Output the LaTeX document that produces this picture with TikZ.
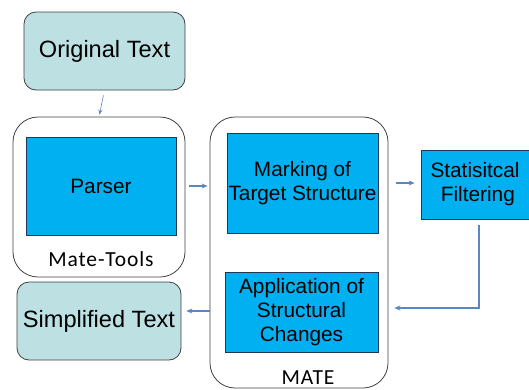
\documentclass[tikz,border=0pt]{standalone}
\usepackage{fontspec}
\setmainfont{Liberation Sans}
\newfontfamily\calib[LetterSpace=4]{Carlito}
\usetikzlibrary{arrows.meta,calc}
\definecolor{tealfill}{RGB}{189,224,227}
\definecolor{bluefill}{RGB}{0,176,240}
\definecolor{boxline}{RGB}{31,56,90}
\definecolor{grayline}{RGB}{64,64,64}
\definecolor{arrowcol}{RGB}{91,134,196}
\tikzset{
  textbox/.style={draw=grayline, fill=tealfill, rounded corners=12pt, line width=0.8pt,
    font=\fontsize{23.6}{28}\selectfont, inner sep=0pt},
  container/.style={draw=grayline, rounded corners=25pt, line width=0.8pt, inner sep=0pt},
  stepbox/.style={draw=boxline, fill=bluefill, line width=0.8pt, align=center,
    font=\fontsize{20.8}{24}\selectfont, inner sep=0pt},
  grouplabel/.style={font=\calib\fontsize{21.5}{24}\selectfont, inner sep=0pt},
  flow/.style={draw=arrowcol, line width=1.2pt, -{Stealth[length=6pt,width=5pt]}},
  thinflow/.style={draw=arrowcol, line width=0.6pt, -{Stealth[length=5pt,width=4pt]}}
}
\begin{document}
\begin{tikzpicture}[x=1pt,y=-1pt]
\useasboundingbox (0,0) rectangle (529,389);
% containers
\node[container, minimum width=172pt, minimum height=160pt] (mt) at (99,197) {};
\node[container, minimum width=178pt, minimum height=271pt] (mate) at (299,252.5) {};
% boxes
\node[textbox, minimum width=161pt, minimum height=78pt] (orig) at (104.5,51) {Original Text};
\node[textbox, minimum width=164pt, minimum height=78pt] (simp) at (99,321) {Simplified Text};
\node[stepbox, minimum width=150pt, minimum height=98pt] (parser) at (101,186) {Parser};
\node[stepbox, minimum width=151pt, minimum height=100pt] (mark) at (302.5,183) {Marking of\\Target Structure};
\node[stepbox, minimum width=108pt, minimum height=69pt] (stat) at (475,184.5) {Statisitcal\\\ Filtering};
\node[stepbox, minimum width=153pt, minimum height=80pt] (app) at (301.5,312) {Application of\\Structural\\Changes};
% group labels
\node[grouplabel] (mtlabel) at (101,259) {Mate-Tools};
\node[grouplabel] (matelabel) at (308,378) {MATE};
% connectors
\draw[thinflow, shorten <=5pt, shorten >=2pt] (orig.south) -- (mt.north);
\draw[flow, shorten <=4pt, shorten >=2pt] (parser.east -| mt.east) -- (parser.east -| mate.west);
\draw[flow, shorten <=8pt, shorten >=6pt] (mark.east -| mate.east) -- (mark.east -| stat.west);
\coordinate (turn) at (479,308);
\draw[flow, shorten >=6pt] ($(stat.south -| turn)+(0,6)$) -- (turn) -- (turn -| mate.east);
\coordinate (back) at (210,311);
\draw[flow, shorten >=5pt] (back) -- (back -| simp.east);
\end{tikzpicture}
\end{document}
